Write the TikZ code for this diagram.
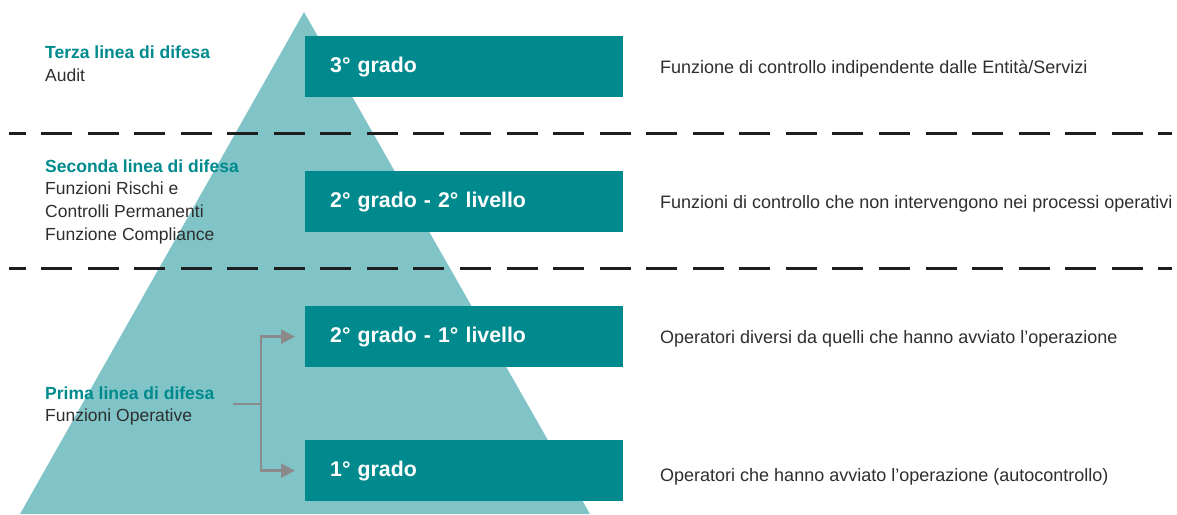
\documentclass[tikz,border=0pt]{standalone}
\usepackage{fontspec}
\setmainfont{Liberation Sans}
\usetikzlibrary{arrows.meta}
\definecolor{tealdark}{HTML}{008A8E}
\definecolor{teallight}{HTML}{80C4C7}
\definecolor{arrowgray}{HTML}{8A8A8A}
\definecolor{textgray}{HTML}{2E2E2E}
\definecolor{dashgray}{HTML}{1E1E1E}
\begin{document}
\begin{tikzpicture}[x=1pt,y=-1pt]
\tikzstyle{grade} = [fill=tealdark, text=white, anchor=north west, minimum width=318pt, minimum height=61pt, inner xsep=25pt, inner ysep=0pt, text width=268pt, align=left, text height=12.4pt, text depth=0pt, font=\fontsize{21.3}{24}\selectfont\bfseries]
\tikzstyle{desc} = [anchor=base west, inner sep=0pt, text=textgray, font=\fontsize{18}{22}\selectfont]
\tikzstyle{defense} = [anchor=base west, inner sep=0pt, text=textgray, align=left, font=\fontsize{17.5}{22.6}\selectfont]
\tikzstyle{sep} = [dashgray, line width=2.8pt, dash pattern=on 31pt off 15.55pt, dash phase=14.5pt]
\tikzstyle{conn} = [arrowgray, line width=2.5pt]
\tikzstyle{connarrow} = [conn, -{Triangle[length=14pt,width=14pt]}]
\useasboundingbox (0,0) rectangle (1177,514);
\fill[teallight] (304,12) -- (20,514) -- (590,514) -- cycle;
\draw[sep] (9,133.5) -- (1172,133.5);
\draw[sep] (9,268.3) -- (1172,268.3);
\node[grade] (g3) at (305,36) {3° grado};
\node[grade] (g22) at (305,171) {2° grado - 2° livello};
\node[grade] (g21) at (305,306) {2° grado - 1° livello};
\node[grade] (g1) at (305,440) {1° grado};
\node[desc] (d3) at (660,73.3) {Funzione di controllo indipendente dalle Entità/Servizi};
\node[desc] (d22) at (660,208.3) {Funzioni di controllo che non intervengono nei processi operativi};
\node[desc] (d21) at (660,343.3) {Operatori diversi da quelli che hanno avviato l’operazione};
\node[desc] (d1) at (660,481) {Operatori che hanno avviato l’operazione (autocontrollo)};
\node[defense] (l3) at (45,81) {\textcolor{tealdark}{\bfseries Terza linea di difesa}\\Audit};
\node[defense] (l2) at (45,240) {\textcolor{tealdark}{\bfseries Seconda linea di difesa}\\Funzioni Rischi e\\Controlli Permanenti\\Funzione Compliance};
\node[defense] (l1) at (45,421.7) {\textcolor{tealdark}{\bfseries Prima linea di difesa}\\Funzioni Operative};
\coordinate (pstart) at (233,404);
\coordinate (fork) at (261,404);
\draw[conn] (pstart) -- (fork);
\draw[connarrow] (fork) |- ([xshift=-10pt]g21.west);
\draw[connarrow] (fork) |- ([xshift=-10pt]g1.west);
\end{tikzpicture}
\end{document}
